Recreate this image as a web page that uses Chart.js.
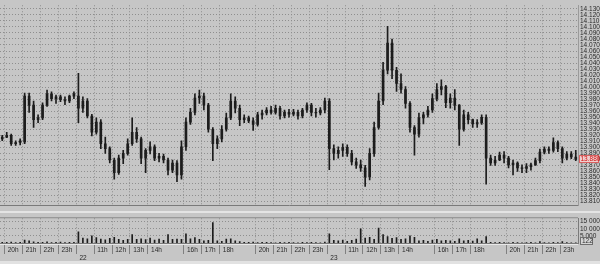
<!DOCTYPE html>
<html><head><meta charset="utf-8">
<script src="https://cdn.jsdelivr.net/npm/chart.js@4.4.0/dist/chart.umd.min.js"></script>
<style>
html,body{margin:0;padding:0;background:#c6c6c6;}
#wrap{position:relative;width:600px;height:264px;overflow:hidden;background:#c6c6c6;}
#c1{position:absolute;left:0;top:0;width:600px;height:211px;}
#sep{position:absolute;left:0;top:211px;width:600px;height:2px;background:#e4e4e4;}
#c2{position:absolute;left:0;top:213px;width:600px;height:47px;}
#bot{position:absolute;left:0;top:261px;width:600px;height:3px;background:#e2e2e2;}
</style></head><body>
<div id="wrap">
<canvas id="c1" width="600" height="211"></canvas>
<div id="sep"></div>
<canvas id="c2" width="600" height="47"></canvas>
<div id="bot"></div>
</div>
<script>
// ---- data (15-minute bars) ----
const sessions = [
  {day:'21', start:'19:45', end:'23:45'},
  {day:'22', start:'10:00', end:'23:45'},
  {day:'23', start:'10:00', end:'23:45'}
];
const hiddenHours = ['15','19'];
const opens = [
13914,13917,13920,13906,13908,13909,13985,13970,13946,13949,13970,13989,13981,13984,13979,13977,13985,
13985,13965,13977,13952,13925,13942,13906,13898,13879,13858,13882,13890,13906,13925,13914,13882,13895,
13901,13882,13885,13879,13862,13874,13854,13901,13942,13958,13982,13985,13970,13930,13906,13914,13930,
13949,13977,13965,13946,13949,13944,13938,13954,13957,13962,13958,13965,13952,13958,13955,13958,13952,13962,13970,13958,13957,13962,
13977,13898,13890,13895,13900,13890,13876,13871,13866,13851,13890,13933,13977,14028,14073,14028,14006,13996,13973,13933,
13922,13949,13954,13962,13981,13996,14001,13974,13982,13970,13930,13954,13946,13939,13941,13950,
13882,13874,13879,13887,13882,13871,13874,13866,13865,13868,13871,13878,13892,13897,13895,13908,13898,13882,13889,13884];
const highs = [
13920,13925,13922,13911,13914,13990,13990,13977,13954,13974,13995,13992,13987,13987,13984,13987,13992,
14023,13984,13981,13955,13949,13946,13917,13901,13882,13887,13895,13914,13949,13933,13917,13898,13909,
13904,13890,13889,13882,13879,13878,13911,13949,13965,13989,13995,13990,13973,13933,13919,13936,13957,
13989,13984,13970,13954,13952,13949,13958,13962,13966,13968,13970,13968,13962,13963,13963,13962,13965,13974,13973,13965,13966,13982,
13981,13904,13901,13906,13904,13895,13882,13879,13870,13898,13942,13990,14041,14101,14080,14033,14022,14001,13976,13936,
13957,13958,13968,13989,14006,14012,14003,13989,13996,13971,13962,13958,13947,13946,13954,13954,
13887,13885,13892,13893,13885,13879,13876,13871,13873,13874,13882,13897,13901,13901,13916,13911,13901,13893,13893,13895];
const lows = [
13911,13916,13903,13903,13904,13906,13958,13933,13941,13946,13968,13977,13973,13976,13971,13974,13981,
13941,13958,13949,13919,13922,13898,13890,13874,13847,13855,13873,13887,13903,13908,13873,13858,13889,
13878,13876,13874,13854,13858,13843,13847,13895,13938,13954,13973,13962,13925,13878,13898,13909,13927,
13946,13957,13936,13941,13941,13928,13935,13947,13954,13955,13955,13947,13949,13950,13952,13947,13949,13958,13952,13950,13954,13957,
13863,13879,13882,13885,13885,13871,13865,13860,13835,13846,13885,13930,13971,14022,14014,13993,13990,13965,13925,13887,
13917,13939,13950,13958,13977,13987,13966,13965,13962,13903,13927,13939,13933,13933,13938,13839,
13870,13870,13878,13874,13866,13854,13860,13858,13858,13862,13870,13874,13889,13890,13892,13893,13874,13879,13881,13878];
const closes = [
13917,13920,13906,13908,13911,13985,13970,13946,13949,13970,13989,13981,13984,13979,13977,13985,13989,
13965,13977,13952,13925,13942,13906,13898,13879,13858,13882,13890,13906,13925,13914,13882,13895,13901,
13882,13885,13879,13862,13874,13854,13901,13942,13958,13982,13985,13970,13930,13906,13914,13930,13949,
13977,13965,13946,13949,13944,13938,13954,13957,13962,13958,13965,13952,13958,13955,13958,13952,13962,13970,13958,13957,13962,13977,
13898,13890,13895,13900,13890,13876,13871,13866,13851,13890,13933,13977,14028,14073,14028,14006,13996,13973,13933,13922,
13949,13954,13962,13981,13996,14001,13974,13982,13970,13930,13954,13946,13939,13941,13950,13882,
13874,13879,13887,13882,13871,13874,13866,13865,13868,13871,13878,13892,13897,13895,13908,13898,13882,13889,13884,13880];
const volumes = [
400,500,600,300,500,2000,1500,900,500,400,800,300,400,600,300,500,400,
7800,3500,3000,5000,3800,2800,2200,3200,4000,2500,1800,2500,6000,2600,3000,2400,3500,
2000,2700,1800,6000,2500,2800,2600,6500,3000,3800,2500,1500,1800,14400,1500,1200,2800,
3000,1500,1000,500,400,600,300,400,500,300,200,400,300,500,300,200,400,300,500,300,200,600,
6500,1800,1500,2000,1200,1800,2800,10000,3500,4000,2500,10500,6000,4500,3200,3800,2500,3000,5000,4000,
1500,1800,1200,2000,2500,1500,1800,1500,1200,3000,1500,1800,1400,3000,1500,4500,
500,300,400,300,200,500,300,200,300,400,200,1000,300,200,400,300,1000,300,200,122];
const priceMin = 13803, priceMax = 14136;
const priceTicks = [];
for (let v = 13810; v <= 14130; v += 10) priceTicks.push(v);
const volTicks = [5000, 10000, 15000];

// ---- categories ----
const categories = [];
sessions.forEach(s => {
  let [h, m] = s.start.split(':').map(Number);
  const [eh, em] = s.end.split(':').map(Number);
  while (h < eh || (h === eh && m <= em)) {
    categories.push(s.day + ' ' + String(h).padStart(2,'0') + ':' + String(m).padStart(2,'0'));
    m += 15; if (m >= 60) { m -= 60; h++; }
  }
});
function partsOf(i){ const lab = categories[i]; if(!lab) return null; const [d,t] = lab.split(' '); const [h,m] = t.split(':'); return {d,h,m}; }
function isHourTick(i){ const p = partsOf(i); return !!p && p.m === '00' && !hiddenHours.includes(p.h); }
function xLabel(i){ const p = partsOf(i); if(!p || p.m !== '00') return ''; if (p.h === '10') return ['', p.d]; if (hiddenHours.includes(p.h)) return ''; return [String(Number(p.h)) + 'h']; }
const fmtPrice = v => Math.floor(v/1000) + '.' + String(Math.round(v % 1000)).padStart(3,'0');
const fmtVol = v => v >= 1000 ? Math.floor(v/1000) + ' ' + String(v % 1000).padStart(3,'0') : String(v);

const FONT = '"Liberation Sans", Arial, sans-serif';
Chart.defaults.font.family = FONT;
const gridColor = '#8e8e8e';
const candleColor = '#1c1c1c';
const lastPrice = closes[closes.length - 1];
const lastVol = volumes[volumes.length - 1];

const lastPricePlugin = { id:'lastPrice', afterDraw(chart){
  const y = Math.round(chart.scales.y.getPixelForValue(lastPrice));
  const ctx = chart.ctx; const x0 = chart.chartArea.right + 1;
  ctx.save();
  ctx.fillStyle = '#efcfcf'; ctx.fillRect(x0, y-4, 20, 8);
  ctx.strokeStyle = '#d86060'; ctx.lineWidth = 1; ctx.strokeRect(x0+0.5, y-3.5, 19, 7);
  ctx.fillStyle = '#d01010'; ctx.font = '6.5px ' + FONT; ctx.textBaseline = 'middle';
  ctx.fillText(fmtPrice(lastPrice), x0 + 1.5, y + 0.5);
  ctx.restore();
}};
const volLabelPlugin = { id:'volLabel', afterDraw(chart){
  const y = Math.round(chart.scales.y.getPixelForValue(lastVol)) - 2;
  const ctx = chart.ctx; const x0 = chart.chartArea.right + 2;
  ctx.save();
  ctx.fillStyle = '#d6d6d6'; ctx.fillRect(x0, y-4, 13, 8);
  ctx.strokeStyle = '#707070'; ctx.lineWidth = 1; ctx.strokeRect(x0+0.5, y-3.5, 12, 7);
  ctx.fillStyle = '#303030'; ctx.font = '6.5px ' + FONT; ctx.textBaseline = 'middle';
  ctx.fillText(String(lastVol), x0 + 2, y + 0.5);
  ctx.restore();
}};
const framePlugin = { id:'frame', afterDraw(chart){
  const a = chart.chartArea, ctx = chart.ctx;
  ctx.save(); ctx.strokeStyle = '#8a8a8a'; ctx.lineWidth = 1;
  ctx.beginPath(); ctx.moveTo(a.left, a.top - 0.5); ctx.lineTo(a.right, a.top - 0.5); ctx.stroke();
  ctx.strokeStyle = '#e8e8e8';
  ctx.beginPath(); ctx.moveTo(a.left, a.bottom + 1.5); ctx.lineTo(a.right, a.bottom + 1.5); ctx.stroke();
  ctx.restore();
}};

new Chart(document.getElementById('c1'), {
  type: 'bar',
  data: { labels: categories, datasets: [
    { data: closes.map((c,i) => [opens[i], c]), backgroundColor: candleColor, barThickness: 2, grouped: false },
    { data: lows.map((l,i) => [l, highs[i]]), backgroundColor: candleColor, barThickness: 1, grouped: false }
  ]},
  options: {
    responsive: false, animation: false, events: [],
    layout: { padding: 0 },
    plugins: { legend: { display: false }, tooltip: { enabled: false } },
    scales: {
      x: { offset: true,
        ticks: { display: false },
        grid: { offset: true, drawTicks: false, lineWidth: 1, color: c => isHourTick(c.index) ? gridColor : 'rgba(0,0,0,0)' },
        border: { display: true, color: '#7a7a7a', dash: [1,2] },
        afterFit: s => { s.height = 1; } },
      y: { position: 'right', min: priceMin, max: priceMax,
        afterBuildTicks: ax => { ax.ticks = priceTicks.map(v => ({ value: v })); },
        ticks: { autoSkip: false, padding: 2, color: '#2a2a2a', font: { size: 6.5, lineHeight: 1 }, callback: v => fmtPrice(v) },
        grid: { color: gridColor, drawTicks: false },
        border: { display: true, color: '#9a9a9a', dash: [1,2] },
        afterFit: s => { s.width = 22; } }
    }
  },
  plugins: [lastPricePlugin]
});

new Chart(document.getElementById('c2'), {
  type: 'bar',
  data: { labels: categories, datasets: [
    { data: volumes, backgroundColor: candleColor, barThickness: 1 }
  ]},
  options: {
    responsive: false, animation: false, events: [],
    layout: { padding: { top: 2 } },
    plugins: { legend: { display: false }, tooltip: { enabled: false } },
    scales: {
      x: { offset: true,
        ticks: { autoSkip: false, maxRotation: 0, minRotation: 0, align: 'start', padding: -7, labelOffset: 1,
                 color: '#2a2a2a', font: { size: 6.5, lineHeight: 1.1 }, callback: (v, i) => xLabel(i) },
        grid: { offset: true, drawTicks: true, tickLength: 11, lineWidth: 1,
                color: c => isHourTick(c.index) ? gridColor : 'rgba(0,0,0,0)',
                tickColor: c => isHourTick(c.index) ? '#808080' : 'rgba(0,0,0,0)' },
        border: { display: true, color: '#7a7a7a', dash: [1,2] },
        afterFit: s => { s.height = 17; } },
      y: { position: 'right', min: 0, max: 17400,
        afterBuildTicks: ax => { ax.ticks = volTicks.map(v => ({ value: v })); },
        ticks: { autoSkip: false, padding: 2, color: '#2a2a2a', font: { size: 6.5, lineHeight: 1 }, callback: v => fmtVol(v) },
        grid: { color: gridColor, drawTicks: false },
        border: { display: true, color: '#7a7a7a', dash: [1,2] },
        afterFit: s => { s.width = 22; } }
    }
  },
  plugins: [volLabelPlugin, framePlugin]
});
</script>
</body></html>
